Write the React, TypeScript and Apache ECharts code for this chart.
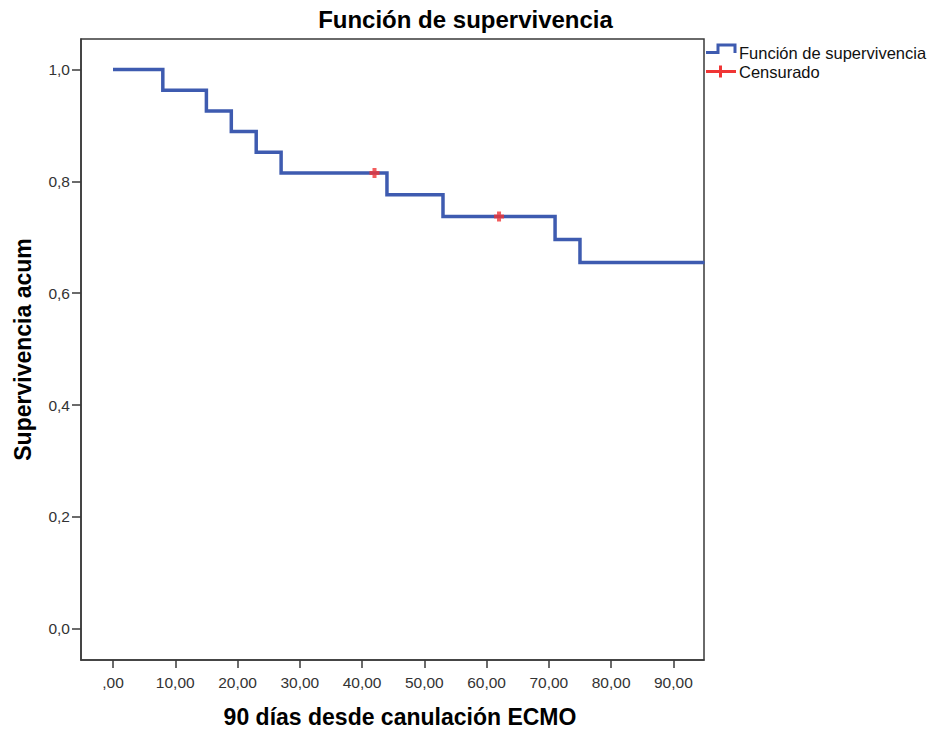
import React, { useEffect, useRef } from "react";
import * as echarts from "echarts";

const eventTimes = [0, 8, 15, 19, 23, 27, 44, 53, 71, 75];
const survival = [1.0, 0.963, 0.926, 0.889, 0.852, 0.815, 0.776, 0.737, 0.696, 0.655];
const followUpEnd = 95;
const censorTimes = [42, 62];
const censorSurvival = [0.815, 0.737];
const xTicks = [0, 10, 20, 30, 40, 50, 60, 70, 80, 90];
const yTicks = [0, 0.2, 0.4, 0.6, 0.8, 1.0];

const titleText = "Función de supervivencia";
const xName = "90 días desde canulación ECMO";
const yName = "Supervivencia acum";
const legendNames = ["Función de supervivencia", "Censurado"];

const BLUE = "#3e5bb0";
const RED = "#f03535";
const FRAME = "#3a3a3a";
const FONT = "Liberation Sans, Arial, sans-serif";

export default function App() {
  const ref = useRef<HTMLDivElement>(null);
  useEffect(() => {
    if (!ref.current) return;
    const chart = echarts.init(ref.current, undefined, { renderer: "svg" });
    const lineData = eventTimes.map((t, i) => [t, survival[i]]);
    lineData.push([followUpEnd, survival[survival.length - 1]]);
    const censorData = censorTimes.map((t, i) => [t, censorSurvival[i]]);
    chart.setOption({
      animation: false,
      backgroundColor: "#fff",
      textStyle: { fontFamily: FONT },
      title: {
        text: titleText,
        left: "center",
        top: 7,
        padding: 0,
        textStyle: { fontFamily: FONT, fontSize: 24, fontWeight: "bold", color: "#000" },
      },
      grid: {
        left: 81,
        right: 227,
        top: 39,
        bottom: 72,
        show: true,
        borderColor: FRAME,
        borderWidth: 1.5,
        backgroundColor: "transparent",
      },
      xAxis: {
        type: "value",
        min: -5.14,
        max: 94.92,
        name: xName,
        nameLocation: "middle",
        nameGap: 45,
        nameTextStyle: {
          fontFamily: FONT,
          fontSize: 23,
          fontWeight: "bold",
          color: "#000",
          padding: [0, 0, 0, 15],
        },
        splitLine: { show: false },
        axisLine: { show: true, onZero: false, lineStyle: { color: FRAME, width: 1.5 } },
        axisTick: {
          show: true,
          length: 8,
          customValues: xTicks,
          lineStyle: { color: FRAME, width: 1.5 },
        },
        axisLabel: {
          customValues: xTicks,
          margin: 14,
          fontFamily: FONT,
          fontSize: 15.5,
          color: "#333",
          formatter: (v: number) => (v === 0 ? ",00" : v.toFixed(2).replace(".", ",")),
        },
      },
      yAxis: {
        type: "value",
        min: -0.0557,
        max: 1.0545,
        name: yName,
        nameLocation: "middle",
        nameGap: 47,
        nameTextStyle: { fontFamily: FONT, fontSize: 23, fontWeight: "bold", color: "#000" },
        splitLine: { show: false },
        axisLine: { show: true, onZero: false, lineStyle: { color: FRAME, width: 1.5 } },
        axisTick: {
          show: true,
          length: 9,
          customValues: yTicks,
          lineStyle: { color: FRAME, width: 1.5 },
        },
        axisLabel: {
          customValues: yTicks,
          margin: 11,
          fontFamily: FONT,
          fontSize: 15.5,
          color: "#333",
          formatter: (v: number) => v.toFixed(1).replace(".", ","),
        },
      },
      series: [
        {
          name: legendNames[0],
          type: "line",
          step: "end",
          data: lineData,
          showSymbol: false,
          symbol: "none",
          clip: true,
          lineStyle: { color: BLUE, width: 3.5, cap: "butt", join: "miter" },
          z: 2,
        },
        {
          name: legendNames[1],
          type: "scatter",
          data: censorData,
          symbol: "path://M3,0H7V3H10V7H7V10H3V7H0V3H3Z",
          symbolSize: 10,
          itemStyle: { color: RED },
          z: 3,
        },
      ],
      graphic: [
        {
          type: "polyline",
          shape: { points: [[706, 52.5], [718, 52.5], [718, 45], [735, 45], [735, 53]] },
          style: { stroke: BLUE, lineWidth: 3, fill: null, lineJoin: "miter" },
        },
        {
          type: "line",
          shape: { x1: 706, y1: 71.5, x2: 736, y2: 71.5 },
          style: { stroke: RED, lineWidth: 3 },
        },
        {
          type: "line",
          shape: { x1: 720.5, y1: 65.5, x2: 720.5, y2: 77.5 },
          style: { stroke: RED, lineWidth: 3 },
        },
        {
          type: "text",
          x: 739,
          y: 52.5,
          style: {
            text: legendNames[0],
            font: "16.5px " + FONT,
            fill: "#111",
            textVerticalAlign: "middle",
            verticalAlign: "middle",
          },
        },
        {
          type: "text",
          x: 739,
          y: 71.5,
          style: {
            text: legendNames[1],
            font: "16.5px " + FONT,
            fill: "#111",
            textVerticalAlign: "middle",
            verticalAlign: "middle",
          },
        },
      ],
    });
    return () => chart.dispose();
  }, []);
  return <div ref={ref} style={{ width: 931, height: 733, position: "absolute", left: 0, top: 0 }} />;
}
